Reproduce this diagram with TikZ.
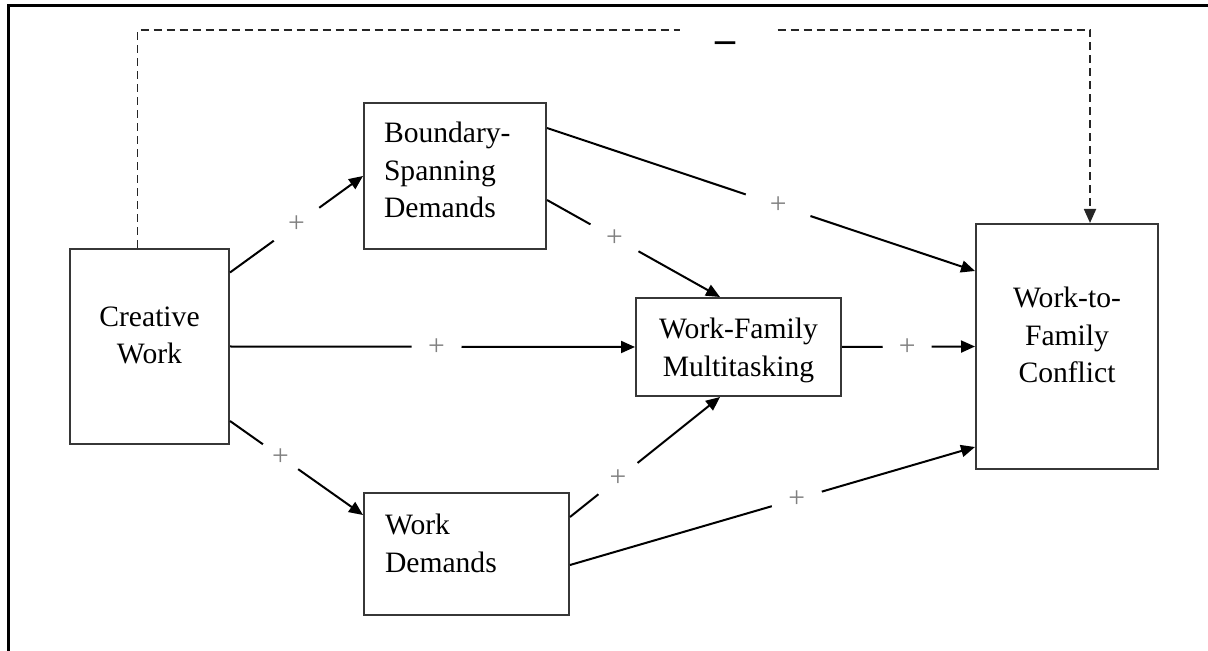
\documentclass[tikz,border=0pt]{standalone}
\usepackage{fontspec}
\setmainfont{Liberation Serif}
\usepackage{tikz}
\usetikzlibrary{arrows.meta,positioning}
\definecolor{boxgray}{RGB}{55,55,55}
\tikzstyle{link} = [line width=1pt,->,>={Triangle[length=7pt,width=6pt]}]
\tikzstyle{feedback} = [line width=0.9pt,->,>={Triangle[length=7pt,width=6pt]},dash pattern=on 4pt off 2.5pt,color=black!85]
\tikzstyle{varbox} = [rectangle, draw=boxgray, line width=1pt, align=center, text depth=11.5pt, font=\fontsize{14.8}{18.75}\selectfont]
\tikzstyle{sign} = [circle, fill=white, inner sep=0pt, text=gray, font=\fontsize{14.8}{18.75}\selectfont]
\tikzstyle{cut} = [rectangle, fill=white, inner sep=0pt, minimum width=46.5pt, minimum height=3pt]
\tikzstyle{minus} = [inner sep=0pt, font=\fontsize{20}{20}\selectfont]

\begin{document}
\begin{tikzpicture}[x=0.5pt,y=-0.5pt]
\useasboundingbox (0,0) rectangle (1208,651);
% Frame
\draw[line width=1.5pt] (8,651) -- (8,6) -- (1208,6);

% Variables
\node[varbox, minimum width=79.5pt, minimum height=97.5pt] (cw) at (149.5,346.5) {Creative\\Work};
\node[varbox, align=left, text height=10pt, text depth=43pt, text width=71pt, inner xsep=10pt, minimum height=73pt] (bsd) at (455,176) {Boundary-\\Spanning\\Demands};
\node[varbox, align=left, text height=10pt, text depth=29.5pt, text width=81.5pt, inner xsep=10.5pt, minimum height=61pt] (wd) at (466.5,554) {Work\\Demands};
\node[varbox, text depth=0pt, minimum width=102.5pt, minimum height=49pt] (wfm) at (738.5,347) {Work-Family\\Multitasking};
\node[varbox, minimum width=91pt, minimum height=122.5pt] (wtf) at (1067,346.5) {Work-to-\\Family\\Conflict};

% Paths
\draw[link] ([yshift=37pt]cw.east) -- node[sign, minimum size=28pt] (p1) {+} (bsd.west);
\draw[link] (cw.east) -- node[sign, pos=.51, minimum size=25pt] (p2) {+} (wfm.west);
\draw[link] ([yshift=-37.25pt]cw.east) -- node[sign, pos=.38, minimum size=21.5pt] (p3) {+} ([yshift=19.5pt]wd.west);
\draw[link] ([yshift=24pt]bsd.east) -- node[sign, pos=.54, minimum size=34pt] (p4) {+} ([yshift=37.75pt]wtf.west);
\draw[link] ([yshift=-12pt]bsd.east) -- node[sign, pos=.39, minimum size=27.5pt] (p5) {+} ([xshift=-9.25pt]wfm.north);
\draw[link] ([yshift=18.5pt]wd.east) -- node[sign, pos=.32, minimum size=25pt] (p6) {+} ([xshift=-9.25pt]wfm.south);
\draw[link] ([yshift=-5.5pt]wd.east) -- node[sign, pos=.56, minimum size=26pt] (p7) {+} ([yshift=-50.25pt]wtf.west);
\draw[link] (wfm.east) -- node[sign, pos=.49, minimum size=24.5pt] (p8) {+} (wtf.west);

% Direct effect
\coordinate (top) at (726,30);
\draw[feedback] ([xshift=-6pt]cw.north) |- (top) node[cut] (cut) {} -| ([xshift=11.5pt]wtf.north);
\node[minus] (neg) at ([yshift=-8.5pt]cut) {\textbf{--}};
\end{tikzpicture}
\end{document}
